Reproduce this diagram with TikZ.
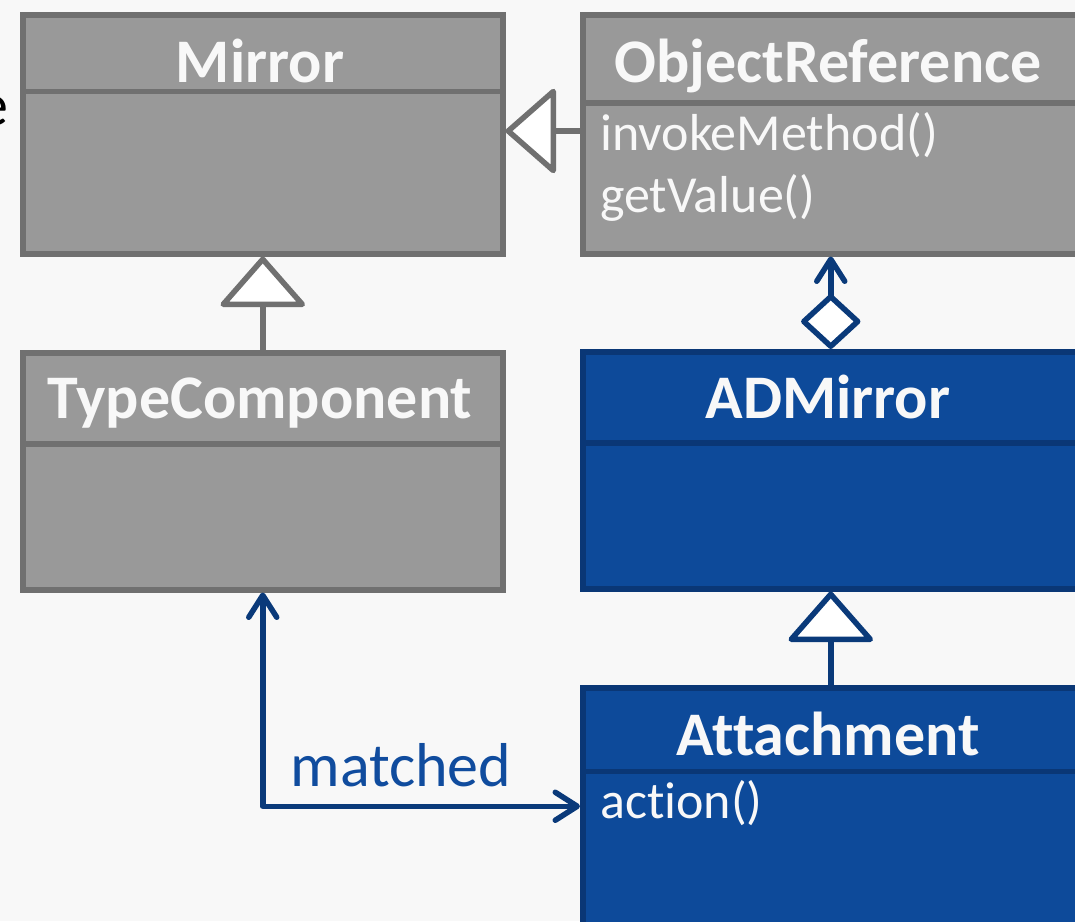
\documentclass[tikz,border=0pt]{standalone}
\usepackage{fontspec}
\setmainfont[Ligatures=NoCommon]{Carlito}
\usetikzlibrary{arrows.meta}
\begin{document}
\begin{tikzpicture}[x=1pt,y=-1pt,
    umlbox/.style={shape=rectangle,draw,line width=5.5pt,anchor=north west,inner sep=0pt,minimum width=496pt,minimum height=237pt},
    greybox/.style={umlbox,draw=uml_greyline,fill=uml_grey},
    bluebox/.style={umlbox,draw=uml_blueline,fill=uml_blue},
    classname/.style={anchor=base,inner sep=0pt,text=uml_text,font=\fontsize{62}{62}\selectfont\bfseries},
    methodname/.style={anchor=base west,inner sep=0pt,text=uml_text,font=\fontsize{52}{52}\selectfont},
    inheritgrey/.style={draw=uml_greyline,line width=5.5pt,-{Triangle[length=52pt,width=90pt,fill=white,round]}},
    inheritblue/.style={draw=uml_arrow,line width=5.5pt,-{Triangle[length=52pt,width=90pt,fill=white,round]}},
    aggregate/.style={draw=uml_arrow,line width=5.5pt,{Diamond[length=57pt,width=62pt,fill=white,round]}-{Straight Barb[length=22pt,width=28pt,round]}},
    assoc/.style={draw=uml_arrow,line width=5.5pt,line join=round,{Straight Barb[length=22pt,width=28pt,round]}-{Straight Barb[length=22pt,width=28pt,round]}}
]
    \definecolor{uml_bg}{RGB}{248,248,248}
    \definecolor{uml_grey}{RGB}{153,153,153}
    \definecolor{uml_greyline}{RGB}{112,112,112}
    \definecolor{uml_blue}{RGB}{13,74,154}
    \definecolor{uml_blueline}{RGB}{10,55,118}
    \definecolor{uml_arrow}{RGB}{10,58,122}
    \definecolor{uml_text}{RGB}{248,248,248}
    \definecolor{uml_label}{RGB}{16,76,158}
    \useasboundingbox (0,0) rectangle (1075,921);
    \fill[uml_bg] (0,0) rectangle (1075,921);
    \node[anchor=base east,inner sep=0pt,font=\fontsize{60}{60}\selectfont] (cutword) at (9,125) {e};
    \node[greybox,minimum width=480pt,minimum height=239pt] (mirror)   at (20,12)  {};
    \node[greybox,minimum height=239pt]                     (objref)   at (580,12) {};
    \node[greybox,minimum width=480pt]                      (typecomp) at (20,350) {};
    \node[bluebox]                                          (admirror) at (580,349) {};
    \node[bluebox]                                          (attach)   at (580,685) {};
    \draw[draw=uml_greyline,line width=5.5pt] (mirror.west |- 0,91.5) -- (mirror.east |- 0,91.5);
    \draw[draw=uml_greyline,line width=5.5pt] (objref.west |- 0,103) -- (objref.east |- 0,103);
    \draw[draw=uml_greyline,line width=5.5pt] (typecomp.west |- 0,444) -- (typecomp.east |- 0,444);
    \draw[draw=uml_blueline,line width=5.5pt] (admirror.west |- 0,443) -- (admirror.east |- 0,443);
    \draw[draw=uml_blueline,line width=5.5pt] (attach.west |- 0,771.5) -- (attach.east |- 0,771.5);
    \node[classname] (mirrorname)   at (260,82)  {Mirror};
    \node[classname] (objrefname)   at (828,82)  {ObjectReference};
    \node[classname] (typecompname) at (260,418) {TypeComponent};
    \node[classname] (admirrorname) at (828,418) {ADMirror};
    \node[classname] (attachname)   at (828,755) {Attachment};
    \node[methodname] (invoke)   at (600,150) {invokeMethod()};
    \node[methodname] (getvalue) at (600,212) {getValue()};
    \node[methodname] (action)   at (600,818) {action()};
    \draw[inheritgrey] (objref.west |- 0,131) -- (mirror.east |- 0,131);
    \draw[inheritgrey] (typecomp.north) -- (mirror.south);
    \draw[inheritblue] (attach.north) -- (admirror.south);
    \draw[aggregate] (admirror.north) -- (objref.south);
    \draw[assoc] (typecomp.south) |- node[pos=0.5,anchor=base west,xshift=25pt,yshift=20pt,inner sep=0pt,text=uml_label,font=\fontsize{62}{62}\selectfont] (matched) {matched} (attach.west);
\end{tikzpicture}
\end{document}
